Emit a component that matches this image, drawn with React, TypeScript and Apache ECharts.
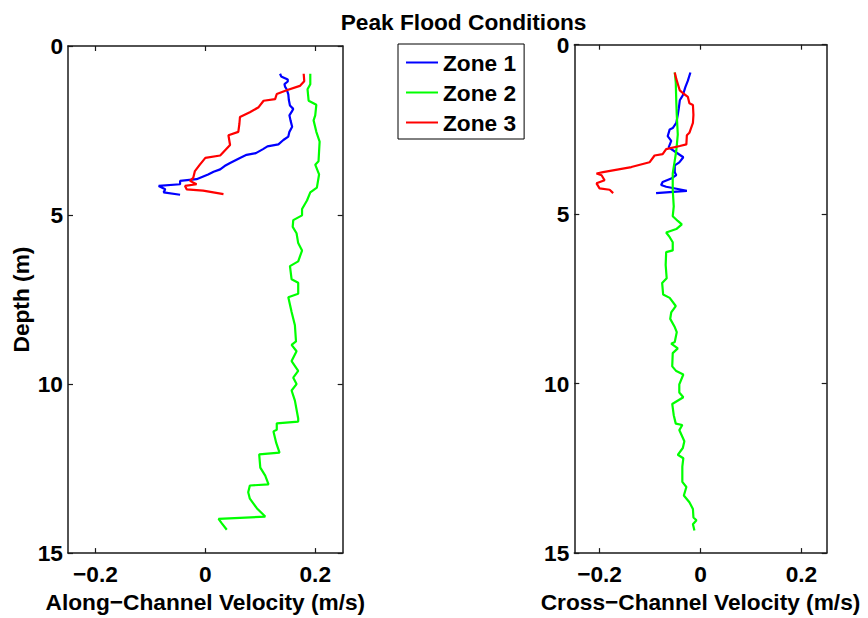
import React, { useEffect, useRef } from "react";
import * as echarts from "echarts";

// [velocity (m/s), depth (m)]
const zone1Along: number[][] = [
  [0.136, 0.82], [0.138, 0.9], [0.15, 0.99], [0.15, 1.05], [0.144, 1.13], [0.145, 1.2], [0.148, 1.28],
  [0.151, 1.43], [0.152, 1.6], [0.154, 1.76], [0.16, 1.86], [0.157, 1.95], [0.153, 2.05], [0.155, 2.2],
  [0.158, 2.39], [0.153, 2.54], [0.151, 2.68], [0.142, 2.78], [0.133, 2.91], [0.113, 2.97], [0.105, 3.05],
  [0.092, 3.17], [0.075, 3.22], [0.063, 3.31], [0.045, 3.46], [0.035, 3.55], [0.027, 3.65], [0.015, 3.72],
  [0.005, 3.8], [-0.016, 3.94], [-0.046, 3.99], [-0.046, 4.09], [-0.085, 4.14], [-0.073, 4.24],
  [-0.076, 4.33], [-0.046, 4.4],
];
const zone2Along: number[][] = [
  [0.191, 0.82], [0.191, 1.13], [0.186, 1.28], [0.188, 1.62], [0.202, 1.74], [0.2, 2.05], [0.197, 2.2],
  [0.202, 2.54], [0.208, 2.83], [0.206, 3.41], [0.2, 3.51], [0.207, 3.8], [0.203, 4.19], [0.191, 4.33],
  [0.185, 4.57], [0.176, 4.82], [0.176, 5.01], [0.16, 5.15], [0.159, 5.35], [0.166, 5.54], [0.169, 5.83],
  [0.176, 6.05], [0.169, 6.37], [0.154, 6.51], [0.157, 6.9], [0.169, 7.0], [0.169, 7.33], [0.151, 7.43],
  [0.157, 7.87], [0.163, 8.26], [0.165, 8.74], [0.157, 8.84], [0.166, 9.03], [0.157, 9.32], [0.169, 9.61],
  [0.16, 9.81], [0.166, 10.0], [0.157, 10.19], [0.163, 10.49], [0.169, 11.02], [0.169, 11.11],
  [0.13, 11.16], [0.13, 11.35], [0.124, 11.4], [0.129, 11.74], [0.135, 12.03], [0.098, 12.08],
  [0.1, 12.47], [0.109, 12.71], [0.115, 12.97], [0.081, 13.0], [0.078, 13.2], [0.081, 13.39],
  [0.094, 13.68], [0.109, 13.92], [0.024, 13.99], [0.03, 14.12], [0.039, 14.31],
];
const zone3Along: number[][] = [
  [0.179, 0.82], [0.18, 1.04], [0.172, 1.18], [0.148, 1.31], [0.13, 1.42], [0.127, 1.57], [0.106, 1.62],
  [0.097, 1.81], [0.081, 1.96], [0.063, 2.1], [0.062, 2.3], [0.06, 2.54], [0.042, 2.64], [0.045, 2.93],
  [0.027, 3.24], [0.0, 3.31], [-0.01, 3.51], [-0.019, 3.7], [-0.022, 3.9], [-0.028, 3.99], [-0.016, 4.09],
  [-0.037, 4.14], [-0.034, 4.24], [-0.004, 4.28], [0.033, 4.38],
];
const zone1Cross: number[][] = [
  [-0.02, 0.82], [-0.025, 1.06], [-0.03, 1.25], [-0.035, 1.49], [-0.041, 1.64], [-0.043, 1.88],
  [-0.045, 2.07], [-0.048, 2.31], [-0.055, 2.46], [-0.061, 2.5], [-0.065, 2.7], [-0.058, 2.84],
  [-0.063, 3.03], [-0.048, 3.18], [-0.034, 3.32], [-0.042, 3.47], [-0.051, 3.56], [-0.051, 3.76],
  [-0.048, 3.85], [-0.058, 3.95], [-0.075, 4.05], [-0.078, 4.14], [-0.068, 4.19], [-0.027, 4.31],
  [-0.088, 4.38],
];
const zone2Cross: number[][] = [
  [-0.051, 0.82], [-0.049, 1.11], [-0.048, 1.68], [-0.047, 2.07], [-0.045, 2.65], [-0.048, 3.13],
  [-0.051, 3.42], [-0.055, 3.8], [-0.055, 4.28], [-0.053, 4.77], [-0.055, 5.06], [-0.045, 5.2],
  [-0.037, 5.3], [-0.048, 5.44], [-0.068, 5.54], [-0.061, 5.68], [-0.055, 5.83], [-0.055, 6.07],
  [-0.068, 6.12], [-0.069, 6.5], [-0.067, 6.89], [-0.076, 7.03], [-0.074, 7.37], [-0.061, 7.47],
  [-0.049, 7.71], [-0.058, 7.9], [-0.06, 8.09], [-0.051, 8.33], [-0.047, 8.48], [-0.051, 8.77],
  [-0.058, 8.82], [-0.045, 8.96], [-0.055, 9.1], [-0.056, 9.49], [-0.048, 9.63], [-0.034, 9.73],
  [-0.042, 10.02], [-0.042, 10.26], [-0.034, 10.4], [-0.056, 10.6], [-0.053, 10.93], [-0.049, 11.18],
  [-0.036, 11.22], [-0.042, 11.37], [-0.032, 11.7], [-0.035, 11.9], [-0.045, 12.1], [-0.034, 12.2],
  [-0.036, 12.45], [-0.036, 12.9], [-0.028, 13.05], [-0.033, 13.3], [-0.022, 13.5], [-0.015, 13.7],
  [-0.014, 13.95], [-0.008, 14.03], [-0.015, 14.15], [-0.012, 14.33],
];
const zone3Cross: number[][] = [
  [-0.051, 0.82], [-0.048, 1.01], [-0.041, 1.35], [-0.034, 1.44], [-0.025, 1.54], [-0.022, 1.73],
  [-0.015, 1.78], [-0.014, 2.07], [-0.015, 2.31], [-0.022, 2.6], [-0.027, 2.67], [-0.028, 2.94],
  [-0.041, 2.99], [-0.068, 3.08], [-0.075, 3.23], [-0.091, 3.27], [-0.101, 3.47], [-0.137, 3.61],
  [-0.193, 3.76], [-0.206, 3.8], [-0.196, 3.85], [-0.19, 4.0], [-0.206, 4.09], [-0.2, 4.24],
  [-0.18, 4.28], [-0.173, 4.38],
];

const zoneNames = ["Zone 1", "Zone 2", "Zone 3"];
const zoneColors = ["#0000ff", "#00ff00", "#ff0000"];
const velocityTicks = [-0.2, 0, 0.2];
const titleText = "Peak Flood Conditions";
const alongLabel = "Along\u2212Channel Velocity (m/s)";
const crossLabel = "Cross\u2212Channel Velocity (m/s)";
const depthLabel = "Depth (m)";

const FONT = "'Liberation Sans', Arial, Helvetica, sans-serif";
const FS = 22.7;
const AX = "#1a1a1a";

const fmtVel = (v: number) => {
  if (Math.abs(v) < 1e-9) return "0";
  return (v < 0 ? "\u2212" : "") + Math.abs(v).toFixed(1);
};

const textStyle = { fontFamily: FONT, fontSize: FS, fontWeight: "bold" as const, color: "#000" };

function xAxisDef(grid: number, pos: "bottom" | "top", name?: string, gap?: number) {
  const main = pos === "bottom";
  return {
    type: "value",
    gridIndex: grid,
    position: pos,
    min: -0.25,
    max: 0.25,
    name: main ? name : undefined,
    nameLocation: "middle",
    nameGap: gap,
    nameTextStyle: textStyle,
    axisLine: { show: true, onZero: false, lineStyle: { color: AX, width: 1.5 } },
    axisTick: { show: true, inside: true, length: 5, customValues: velocityTicks, lineStyle: { color: AX, width: 1.2 } },
    axisLabel: main
      ? { show: true, customValues: velocityTicks, formatter: fmtVel, margin: 9, ...textStyle }
      : { show: false },
    splitLine: { show: false },
  };
}

function yAxisDef(grid: number, pos: "left" | "right", name?: string) {
  const main = pos === "left";
  return {
    type: "value",
    gridIndex: grid,
    position: pos,
    inverse: true,
    min: 0,
    max: 15,
    interval: 5,
    name: main ? name : undefined,
    nameLocation: "middle",
    nameGap: 36,
    nameRotate: 90,
    nameTextStyle: textStyle,
    axisLine: { show: true, onZero: false, lineStyle: { color: AX, width: 1.5 } },
    axisTick: { show: true, inside: true, length: 5, lineStyle: { color: AX, width: 1.2 } },
    axisLabel: main ? { show: true, margin: 5, ...textStyle } : { show: false },
    splitLine: { show: false },
  };
}

function lineSeries(name: string, color: string, data: number[][], axis: number) {
  return {
    type: "line",
    name,
    data,
    xAxisIndex: axis,
    yAxisIndex: axis,
    symbol: "none",
    showSymbol: false,
    lineStyle: { color, width: 2.2 },
    itemStyle: { color },
    emphasis: { disabled: true },
  };
}

export default function App() {
  const ref = useRef<HTMLDivElement>(null);
  useEffect(() => {
    if (!ref.current) return;
    const chart = echarts.init(ref.current, undefined, { renderer: "svg" });
    const along = [zone1Along, zone2Along, zone3Along];
    const cross = [zone1Cross, zone2Cross, zone3Cross];
    chart.setOption({
      animation: false,
      backgroundColor: "#fff",
      title: {
        text: titleText,
        left: 340.7,
        top: 12.5,
        padding: 0,
        textStyle: { ...textStyle, lineHeight: 18 },
      },
      legend: {
        data: zoneNames,
        orient: "vertical",
        left: 398,
        top: 44,
        icon: "rect",
        itemWidth: 32,
        itemHeight: 2,
        itemGap: 7,
        padding: [7, 8, 5, 8],
        borderColor: "#000",
        borderWidth: 1,
        selectedMode: false,
        textStyle: { ...textStyle, lineHeight: 23 },
      },
      grid: [
        { left: 68, top: 46, width: 274.7, height: 516 },
        { left: 574.3, top: 44.7, width: 252.4, height: 521 },
      ],
      xAxis: [
        xAxisDef(0, "bottom", alongLabel, 28),
        xAxisDef(0, "top"),
        xAxisDef(1, "bottom", crossLabel, 30),
        xAxisDef(1, "top"),
      ],
      yAxis: [yAxisDef(0, "left", depthLabel), yAxisDef(0, "right"), yAxisDef(1, "left"), yAxisDef(1, "right")],
      series: [
        ...along.map((d, i) => lineSeries(zoneNames[i], zoneColors[i], d, 0)),
        ...cross.map((d, i) => lineSeries(zoneNames[i], zoneColors[i], d, 2)),
      ],
    });
    return () => chart.dispose();
  }, []);
  return <div ref={ref} style={{ position: "absolute", left: 0, top: 0, width: 868, height: 618 }} />;
}
